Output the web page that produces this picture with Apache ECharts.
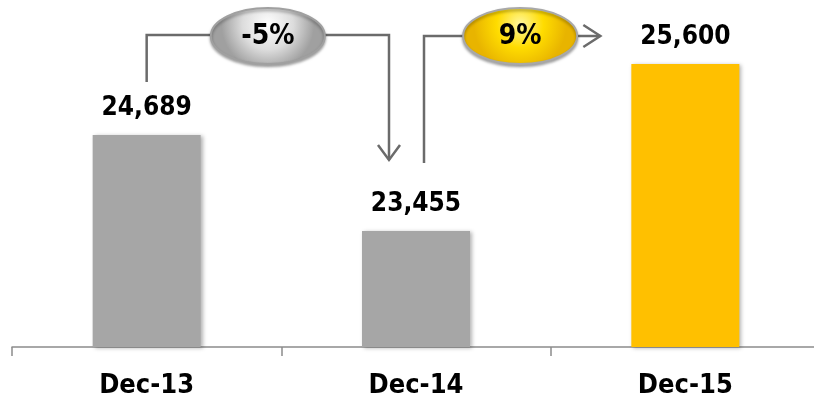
<!DOCTYPE html>
<html>
<head>
<meta charset="utf-8">
<script src="https://cdn.jsdelivr.net/npm/echarts@6/dist/echarts.min.js"></script>
<style>
  html, body { margin: 0; padding: 0; background: #fff; }
  #chart { width: 814px; height: 400px; }
</style>
</head>
<body>
<div id="chart"></div>
<script>
'use strict';

// data
var categories = ['Dec-13', 'Dec-14', 'Dec-15'];
var values = [24689, 23455, 25600];
var changeLabels = ['-5%', '9%'];

var FONT = "'DejaVu Sans Condensed', 'DejaVu Sans', sans-serif";
var barColors = ['#A6A6A6', '#A6A6A6', '#FFC000'];

var chart = echarts.init(document.getElementById('chart'));

var option = {
  animation: false,
  grid: { left: 12, width: 808, top: 0, bottom: 53, outerBoundsMode: 'none' },
  xAxis: {
    type: 'category',
    data: categories,
    axisLine: { lineStyle: { color: '#8c8c8c', width: 1.5 } },
    axisTick: { show: true, length: 9, lineStyle: { color: '#8c8c8c', width: 1.5 } },
    axisLabel: {
      margin: 25,
      color: '#000',
      fontFamily: FONT,
      fontWeight: 'bold',
      fontSize: 27
    }
  },
  yAxis: {
    type: 'value',
    min: 21965,
    max: 26421,
    show: false,
    splitLine: { show: false }
  },
  series: [{
    type: 'bar',
    barWidth: 108,
    data: values.map(function (v, i) {
      return { value: v, itemStyle: { color: barColors[i] } };
    }),
    itemStyle: {
      shadowBlur: 4,
      shadowColor: 'rgba(0,0,0,0.3)',
      shadowOffsetX: 2,
      shadowOffsetY: 1
    },
    label: {
      show: true,
      position: 'top',
      distance: 14,
      color: '#000',
      fontFamily: FONT,
      fontWeight: 'bold',
      fontSize: 26,
      formatter: function (p) {
        return p.value.toLocaleString('en-US');
      }
    }
  }]
};

chart.setOption(option);

// connector arrows and change bubbles
function px(i) {
  return chart.convertToPixel({ seriesIndex: 0 }, [i, values[i]]);
}
var p0 = px(0), p1 = px(1), p2 = px(2);
var lineStyle = { stroke: '#6b6b6b', lineWidth: 2.5, fill: null };
var topY = 35;

function bubble(cx, cy, text, stops, border) {
  return [{
    type: 'ellipse',
    shape: { cx: cx, cy: cy, rx: 57, ry: 28 },
    style: {
      fill: new echarts.graphic.RadialGradient(0.5, 0.3, 0.8, stops),
      stroke: border,
      lineWidth: 2,
      shadowBlur: 3,
      shadowColor: 'rgba(0,0,0,0.35)',
      shadowOffsetY: 2
    },
    z: 10
  }, {
    type: 'text',
    x: cx,
    y: cy + 1,
    style: {
      text: text,
      fill: '#000',
      font: 'bold 28px ' + FONT,
      align: 'center',
      verticalAlign: 'middle'
    },
    z: 11
  }];
}

var x1 = p0[0];
var x2 = p1[0] - 27;
var x3 = p1[0] + 8;
var x4 = p2[0] - 85;

var elements = [
  { type: 'polyline', shape: { points: [[x1, p0[1] - 53], [x1, topY], [x2, topY], [x2, p1[1] - 71]] }, style: lineStyle },
  { type: 'polyline', shape: { points: [[x2 - 11, p1[1] - 86], [x2, p1[1] - 71], [x2 + 11, p1[1] - 86]] }, style: lineStyle },
  { type: 'polyline', shape: { points: [[x3, p1[1] - 68], [x3, topY + 1], [x4, topY + 1]] }, style: lineStyle },
  { type: 'polyline', shape: { points: [[x4 - 17, topY - 10], [x4, topY + 1], [x4 - 17, topY + 12]] }, style: lineStyle }
];

elements = elements.concat(
  bubble((x1 + x2) / 2, 36, changeLabels[0], [
    { offset: 0, color: '#ffffff' },
    { offset: 0.55, color: '#dcdcdc' },
    { offset: 1, color: '#a0a0a0' }
  ], '#a0a0a0'),
  bubble((x3 + x4) / 2 + 8, 36, changeLabels[1], [
    { offset: 0, color: '#fff7a0' },
    { offset: 0.5, color: '#ffdc00' },
    { offset: 1, color: '#e8b400' }
  ], '#a8a8a8')
);

chart.setOption({ graphic: { elements: elements } });
</script>
</body>
</html>
